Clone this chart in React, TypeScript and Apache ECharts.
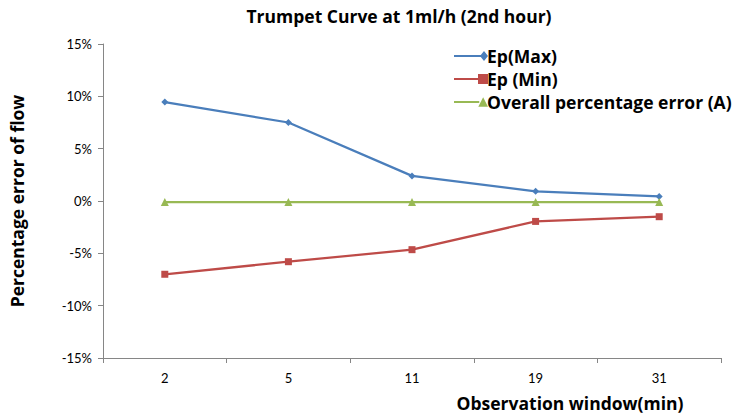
import React, { useEffect, useRef } from "react";
import * as echarts from "echarts";

const categories = ["2", "5", "11", "19", "31"];
const epMax = [9.45, 7.5, 2.4, 0.92, 0.44];
const epMin = [-7.0, -5.8, -4.65, -1.95, -1.5];
const overall = [-0.1, -0.1, -0.1, -0.1, -0.1];
const seriesNames = ["Ep(Max)", "Ep (Min)", "Overall percentage error (A)"];
const colors = ["#4A7EBB", "#BE4B48", "#98B954"];

const FONT = "Lato, 'Open Sans', sans-serif";
const BOLD = "'Open Sans', sans-serif";

export default function App() {
  const ref = useRef<HTMLDivElement>(null);
  useEffect(() => {
    if (!ref.current) return;
    const chart = echarts.init(ref.current, null, { renderer: "svg" });
    const iconMax = "path://M0,4h27v2h-27z M30,0 L34,5 L30,10 L26,5 Z";
    const iconMin = "path://M0,4h25v2h-25z M24,0h10v10h-10z";
    const iconA = "path://M0,4h26v2h-26z M30,0 L35,10 L25,10 Z";
    chart.setOption({
      animation: false,
      backgroundColor: "#fff",
      title: {
        text: "Trumpet Curve at 1ml/h (2nd hour)",
        left: 394,
        textAlign: "center",
        top: 2,
        textStyle: { fontFamily: BOLD, fontWeight: "bold", fontSize: 17.5, color: "#000" },
      },
      legend: {
        orient: "vertical",
        left: 449,
        top: 42,
        itemWidth: 34,
        itemHeight: 10,
        itemGap: 5,
        textStyle: { fontFamily: BOLD, fontWeight: "bold", fontSize: 17.5, lineHeight: 18, color: "#000", padding: [0, 0, 0, -6] },
        data: [
          { name: seriesNames[0], icon: iconMax },
          { name: seriesNames[1], icon: iconMin },
          { name: seriesNames[2], icon: iconA },
        ],
      },
      grid: { left: 97, right: 18, top: 44, bottom: 55, containLabel: false },
      xAxis: {
        type: "category",
        data: categories,
        boundaryGap: true,
        name: "Observation window(min)",
        nameLocation: "middle",
        nameGap: 36,
        nameTextStyle: { fontFamily: BOLD, fontWeight: "bold", fontSize: 17.5, color: "#000", padding: [0, 0, 0, 316] },
        axisLine: { onZero: false, lineStyle: { color: "#868686", width: 1 } },
        axisTick: { show: true, alignWithLabel: false, length: 5, lineStyle: { color: "#868686" } },
        axisLabel: { fontFamily: FONT, fontSize: 13, color: "#000", margin: 13 },
        splitLine: { show: false },
      },
      yAxis: {
        type: "value",
        min: -15,
        max: 15,
        interval: 5,
        name: "Percentage error of flow",
        nameLocation: "middle",
        nameRotate: 90,
        nameGap: 77,
        nameTextStyle: { fontFamily: BOLD, fontWeight: "bold", fontSize: 17.5, color: "#000" },
        axisLine: { show: true, lineStyle: { color: "#868686", width: 1 } },
        axisTick: { show: true, length: 5, lineStyle: { color: "#868686" } },
        axisLabel: { fontFamily: FONT, fontSize: 13, color: "#000", margin: 11, formatter: (v: number) => `${v}%` },
        splitLine: { show: false },
      },
      series: [
        {
          name: seriesNames[0],
          type: "line",
          data: epMax,
          symbol: "diamond",
          symbolSize: 7,
          lineStyle: { color: colors[0], width: 2.25 },
          itemStyle: { color: colors[0] },
        },
        {
          name: seriesNames[1],
          type: "line",
          data: epMin,
          symbol: "rect",
          symbolSize: 7,
          lineStyle: { color: colors[1], width: 2.25 },
          itemStyle: { color: colors[1] },
        },
        {
          name: seriesNames[2],
          type: "line",
          data: overall,
          symbol: "triangle",
          symbolSize: 8,
          lineStyle: { color: colors[2], width: 2.25 },
          itemStyle: { color: colors[2] },
        },
      ],
    });
    return () => chart.dispose();
  }, []);
  return <div ref={ref} style={{ width: 739, height: 417, position: "absolute", left: 0, top: 0 }} />;
}
